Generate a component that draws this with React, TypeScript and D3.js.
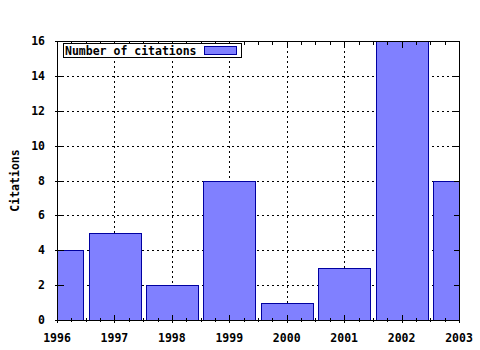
import React from "react";
import * as d3 from "d3";

const years = [1996, 1997, 1998, 1999, 2000, 2001, 2002, 2003];
const citations = [4, 5, 2, 8, 1, 3, 16, 8];
const yTicks = [0, 2, 4, 6, 8, 10, 12, 14, 16];
const seriesName = "Number of citations";
const yLabel = "Citations";

const W = 480, H = 350;
const L = 57, R = 459, T = 41, B = 320;
const FONT = "'DejaVu Sans Mono', monospace";

export default function App() {
  const x = d3.scaleLinear().domain([1996, 2003]).range([L, R]);
  const y = d3.scaleLinear().domain([0, 16]).range([B, T]);
  const bw = (x(1997) - x(1996)) * 0.9;
  const minor: number[] = [];
  for (let v = 1996; v <= 2003.001; v += 0.25) minor.push(v);
  return (
    <svg width={W} height={H} style={{ position: "absolute", left: 0, top: 0, background: "#fff" }}>
      <defs>
        <clipPath id="plot"><rect x={L} y={T} width={R - L} height={B - T} /></clipPath>
      </defs>
      <rect width={W} height={H} fill="#fff" />
      {/* grid */}
      <g stroke="#000" strokeWidth={1} strokeDasharray="2,3" shapeRendering="crispEdges">
        {years.slice(1, -1).map((v) => (
          <line key={"gx" + v} x1={Math.round(x(v)) + 0.5} x2={Math.round(x(v)) + 0.5} y1={T} y2={B} />
        ))}
        {yTicks.slice(1, -1).map((v) => (
          <line key={"gy" + v} x1={L} x2={R} y1={Math.round(y(v)) + 0.5} y2={Math.round(y(v)) + 0.5} />
        ))}
      </g>
      {/* bars */}
      <g clipPath="url(#plot)" shapeRendering="crispEdges">
        {years.map((yr, i) => (
          <rect key={yr} x={Math.round(x(yr) - bw / 2) + 0.5} y={Math.round(y(citations[i])) + 0.5}
            width={Math.round(bw)} height={Math.round(y(0) - y(citations[i]))}
            fill="#8080ff" stroke="#0000a0" strokeWidth={1} />
        ))}
      </g>
      {/* ticks */}
      <g stroke="#000" strokeWidth={1} shapeRendering="crispEdges">
        {minor.map((v, i) => {
          const px = Math.round(x(v)) + 0.5;
          const major = i % 4 === 0;
          const len = major ? 6 : 3;
          return (
            <g key={"t" + i}>
              <line x1={px} x2={px} y1={B + 0.5} y2={B + 0.5 - len} />
              <line x1={px} x2={px} y1={B + 0.5} y2={B + 0.5 + (major ? 2 : 1)} />
              <line x1={px} x2={px} y1={T + 0.5} y2={T + 0.5 + len} />
            </g>
          );
        })}
        {yTicks.map((v) => {
          const py = Math.round(y(v)) + 0.5;
          return (
            <g key={"yt" + v}>
              <line x1={L + 0.5} x2={L + 6.5} y1={py} y2={py} />
              <line x1={L + 0.5} x2={L - 2.5} y1={py} y2={py} />
              <line x1={R + 0.5} x2={R - 5.5} y1={py} y2={py} />
            </g>
          );
        })}
      </g>
      {/* frame */}
      <rect x={L + 0.5} y={T + 0.5} width={R - L} height={B - T} fill="none" stroke="#000" strokeWidth={1} shapeRendering="crispEdges" />
      {/* tick labels */}
      <g fontFamily={FONT} fontWeight="bold" fontSize={11.5} fill="#000">
        {yTicks.map((v) => (
          <text key={"yl" + v} x={45} y={y(v)} textAnchor="end" dominantBaseline="central">{v}</text>
        ))}
        {years.map((v) => (
          <text key={"xl" + v} x={x(v)} y={338} textAnchor="middle" dominantBaseline="central">{v}</text>
        ))}
        <text transform={`translate(15,${(T + B) / 2}) rotate(-90)`} textAnchor="middle" dominantBaseline="central">{yLabel}</text>
      </g>
      {/* legend */}
      <g>
        <rect x={63.5} y={43.5} width={178} height={14} fill="#fff" stroke="#000" strokeWidth={1} shapeRendering="crispEdges" />
        <text x={65} y={51} fontFamily={FONT} fontWeight="bold" fontSize={11.5} dominantBaseline="central">{seriesName}</text>
        <rect x={204.5} y={46.5} width={32} height={8} fill="#8080ff" stroke="#0000a0" strokeWidth={1} shapeRendering="crispEdges" />
      </g>
    </svg>
  );
}
